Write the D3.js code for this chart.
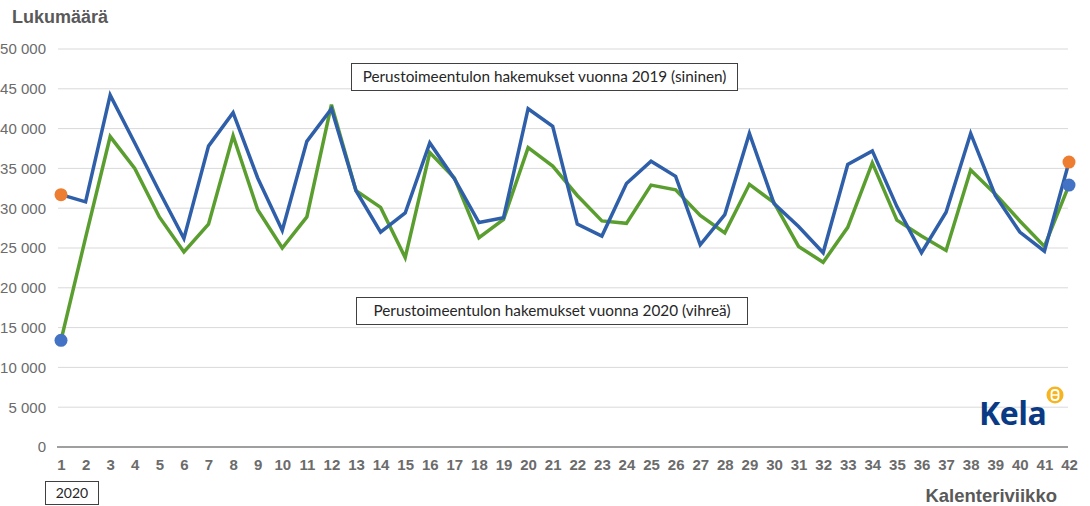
<!DOCTYPE html>
<html>
<head>
<meta charset="utf-8">
<script src="https://cdn.jsdelivr.net/npm/d3@7"></script>
<style>
  body { margin: 0; background: #fff; }
  svg { display: block; }
</style>
</head>
<body>
<div id="chart-area"></div>
<script>
// weeks 1..42
var weeks = d3.range(1, 43);

// Perustoimeentulon hakemukset 2019 (blue)
var apps2019 = [31700, 30800, 44200, 38200, 32100, 26200, 37800, 42000, 33800, 27200,
                38400, 42500, 32200, 27000, 29400, 38200, 33700, 28200, 28800, 42500,
                40300, 28000, 26500, 33100, 35900, 34000, 25400, 29200, 39400, 30600,
                27700, 24400, 35500, 37200, 30200, 24400, 29500, 39400, 31600, 27000,
                24600, 35800];

// Perustoimeentulon hakemukset 2020 (green)
var apps2020 = [13400, 26300, 39000, 35000, 28900, 24500, 28000, 39100, 29800, 25000,
                28900, 43000, 32200, 30100, 23800, 37000, 33800, 26300, 28600, 37600,
                35300, 31600, 28400, 28100, 32900, 32300, 29100, 26900, 33000, 30700,
                25200, 23200, 27600, 35700, 28500, 26500, 24700, 34800, 31800, 28400,
                25200, 32900];

var yTicks = [0, 5000, 10000, 15000, 20000, 25000, 30000, 35000, 40000, 45000, 50000];

var width = 1090, height = 506;

var xScale = d3.scaleLinear().domain([1, 42]).range([61, 1069]);
var yScale = d3.scaleLinear().domain([0, 50000]).range([447, 49]);

var svg = d3.select("#chart-area").append("svg")
    .attr("width", width)
    .attr("height", height);

var fmt = function(n) { return d3.format(",")(n).replace(/,/g, " "); };

// gridlines
svg.append("g").selectAll("line")
    .data(yTicks.filter(function(d){ return d > 0; }))
    .enter().append("line")
    .attr("x1", 58).attr("x2", 1068)
    .attr("y1", function(d){ return yScale(d); })
    .attr("y2", function(d){ return yScale(d); })
    .attr("stroke", "#d9d9d9")
    .attr("stroke-width", 1);

// y axis labels
var yAxis = d3.axisLeft(yScale).tickValues(yTicks).tickFormat(fmt).tickSize(0).tickPadding(0);
var yG = svg.append("g")
    .attr("transform", "translate(46,0)")
    .call(yAxis);
yG.select(".domain").remove();
yG.selectAll("text")
    .attr("font-family", "Liberation Sans, Arial, sans-serif")
    .attr("font-size", "15px")
    .attr("fill", "#6b6b6b");

// baseline
svg.append("line")
    .attr("x1", 57).attr("x2", 1068)
    .attr("y1", yScale(0)).attr("y2", yScale(0))
    .attr("stroke", "#7f7f7f")
    .attr("stroke-width", 1.5);

// x axis labels
var xAxis = d3.axisBottom(xScale).tickValues(weeks).tickFormat(d3.format("d")).tickSize(0).tickPadding(12);
var xG = svg.append("g")
    .attr("transform", "translate(0," + yScale(0) + ")")
    .call(xAxis);
xG.select(".domain").remove();
xG.selectAll("text")
    .attr("font-family", "Liberation Sans, Arial, sans-serif")
    .attr("font-size", "15px")
    .attr("font-weight", "bold")
    .attr("fill", "#6b6b6b");

// lines
var line = d3.line()
    .x(function(d, i){ return xScale(weeks[i]); })
    .y(function(d){ return yScale(d); });

svg.append("path")
    .datum(apps2020)
    .attr("d", line)
    .attr("fill", "none")
    .attr("stroke", "#5b9e30")
    .attr("stroke-width", 3.5)
    .attr("stroke-linejoin", "miter");

svg.append("path")
    .datum(apps2019)
    .attr("d", line)
    .attr("fill", "none")
    .attr("stroke", "#2f5fa9")
    .attr("stroke-width", 3.5)
    .attr("stroke-linejoin", "miter");

// end markers
var markers = [
  { w: 1, v: apps2019[0], c: "#ed7d31" },
  { w: 1, v: apps2020[0], c: "#4472c4" },
  { w: 42, v: apps2019[41], c: "#ed7d31" },
  { w: 42, v: apps2020[41], c: "#4472c4" }
];
svg.append("g").selectAll("circle")
    .data(markers)
    .enter().append("circle")
    .attr("cx", function(d){ return xScale(d.w); })
    .attr("cy", function(d){ return yScale(d.v); })
    .attr("r", 6.5)
    .attr("fill", function(d){ return d.c; });

// annotation boxes
function noteBox(x, y, w, h, label, size) {
  var g = svg.append("g").attr("transform", "translate(" + x + "," + y + ")");
  g.append("rect")
    .attr("width", w).attr("height", h)
    .attr("fill", "#fff")
    .attr("stroke", "#404040")
    .attr("stroke-width", 1);
  g.append("text")
    .attr("x", w / 2).attr("y", h / 2 + 5)
    .attr("text-anchor", "middle")
    .attr("font-family", "Lato, 'Open Sans', sans-serif")
    .attr("font-size", size + "px")
    .attr("fill", "#262626")
    .text(label);
}
noteBox(351.5, 63.5, 386, 27, "Perustoimeentulon hakemukset vuonna 2019 (sininen)", 15.3);
noteBox(356.5, 297.5, 391, 27, "Perustoimeentulon hakemukset vuonna 2020 (vihreä)", 15.3);
noteBox(45.5, 481.5, 53, 23, "2020", 14);

// titles
svg.append("text")
    .attr("x", 12).attr("y", 23)
    .attr("font-family", "Liberation Sans, Arial, sans-serif")
    .attr("font-size", "18px")
    .attr("font-weight", "bold")
    .attr("fill", "#595959")
    .text("Lukumäärä");

svg.append("text")
    .attr("x", 1057).attr("y", 502)
    .attr("text-anchor", "end")
    .attr("font-family", "Liberation Sans, Arial, sans-serif")
    .attr("font-size", "18.5px")
    .attr("font-weight", "bold")
    .attr("fill", "#595959")
    .text("Kalenteriviikko");

// Kela logo
var logo = svg.append("g").attr("transform", "translate(979,425)");
logo.append("text")
    .attr("x", 0).attr("y", 0)
    .attr("font-family", "'Open Sans', 'DejaVu Sans', sans-serif")
    .attr("font-size", "32px")
    .attr("font-weight", "bold")
    .attr("letter-spacing", "-0.5px")
    .attr("fill", "#0a3a84")
    .text("Kela");
logo.append("circle")
    .attr("cx", 76).attr("cy", -30)
    .attr("r", 8.5)
    .attr("fill", "#f6b51e");
logo.append("rect")
    .attr("x", 72.5).attr("y", -35)
    .attr("width", 7).attr("height", 10)
    .attr("rx", 3)
    .attr("fill", "none")
    .attr("stroke", "#fff")
    .attr("stroke-width", 1.8);
logo.append("line")
    .attr("x1", 72.5).attr("x2", 79.5)
    .attr("y1", -30).attr("y2", -30)
    .attr("stroke", "#fff")
    .attr("stroke-width", 1.5);
</script>
</body>
</html>
